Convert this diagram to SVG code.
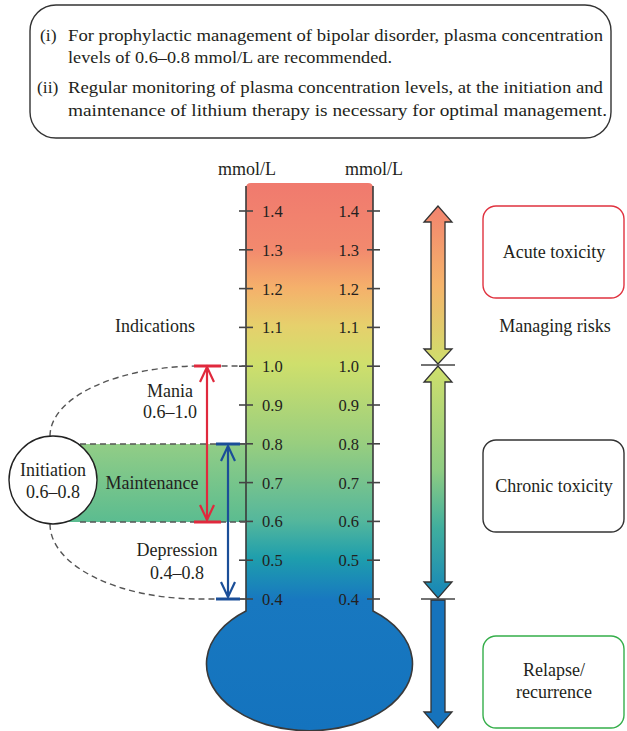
<svg xmlns="http://www.w3.org/2000/svg" width="627" height="731" viewBox="0 0 627 731">
<style>
text{font-family:"Liberation Serif","Times New Roman",serif;fill:#231f20;}
.hd{font-size:17.5px;}
.lb{font-size:18px;}
.tk{font-size:16.5px;}
.tick{stroke:#444;stroke-width:1.6;}
.dash{stroke:#555;stroke-width:1.4;stroke-dasharray:6 4;fill:none;}
.arr{stroke:#333;stroke-width:1.3;}
</style>
<defs>
<linearGradient id="tube" gradientUnits="userSpaceOnUse" x1="0" y1="183" x2="0" y2="731">
<stop offset="0" stop-color="#F07A6E"/>
<stop offset="0.12" stop-color="#F2896E"/>
<stop offset="0.19" stop-color="#F5B06B"/>
<stop offset="0.26" stop-color="#E6D06C"/>
<stop offset="0.33" stop-color="#CFDF6C"/>
<stop offset="0.475" stop-color="#98CE7F"/>
<stop offset="0.615" stop-color="#55B79C"/>
<stop offset="0.685" stop-color="#1E9EAD"/>
<stop offset="0.76" stop-color="#1878C0"/>
<stop offset="1" stop-color="#1473BE"/>
</linearGradient>
<linearGradient id="band" x1="0" y1="0" x2="0" y2="1">
<stop offset="0" stop-color="#92CD86"/>
<stop offset="1" stop-color="#5BBC90"/>
</linearGradient>
<linearGradient id="ga1" gradientUnits="userSpaceOnUse" x1="0" y1="206" x2="0" y2="364">
<stop offset="0" stop-color="#F2836E"/>
<stop offset="0.5" stop-color="#F5B46B"/>
<stop offset="1" stop-color="#CFDF6C"/>
</linearGradient>
<linearGradient id="ga2" gradientUnits="userSpaceOnUse" x1="0" y1="366" x2="0" y2="598">
<stop offset="0" stop-color="#CFDF6C"/>
<stop offset="0.45" stop-color="#8ECC82"/>
<stop offset="0.7" stop-color="#3FAE9E"/>
<stop offset="1" stop-color="#1685B8"/>
</linearGradient>
</defs>

<g id="note">
<rect x="30" y="5" width="581" height="133" rx="26" fill="#fff" stroke="#333" stroke-width="1.4"/>
<text class="hd" x="40" y="41">(i)</text>
<text class="hd" x="68" y="41" textLength="535" lengthAdjust="spacingAndGlyphs">For prophylactic management of bipolar disorder, plasma concentration</text>
<text class="hd" x="68" y="63" textLength="324" lengthAdjust="spacingAndGlyphs">levels of 0.6–0.8 mmol/L are recommended.</text>
<text class="hd" x="37" y="93">(ii)</text>
<text class="hd" x="68" y="93" textLength="535" lengthAdjust="spacingAndGlyphs">Regular monitoring of plasma concentration levels, at the initiation and</text>
<text class="hd" x="68" y="116" textLength="539" lengthAdjust="spacingAndGlyphs">maintenance of lithium therapy is necessary for optimal management.</text>
</g>

<g id="maintenance-band">
<rect x="53" y="444" width="193" height="78" fill="url(#band)"/>
</g>

<g id="thermometer">
<path d="M246 611 L246 188 Q246 183 251 183 L368 183 Q373 183 373 188 L373 611 A103 67 0 1 1 246 611 Z" fill="url(#tube)"/>
<path d="M246 186 L246 611 A103 67 0 1 0 373 611 L373 186" fill="none" stroke="#3a3a3a" stroke-width="1.6"/>
<text class="lb" x="247" y="175" text-anchor="middle">mmol/L</text>
<text class="lb" x="374" y="175" text-anchor="middle">mmol/L</text>
<g class="tick">
<line x1="239" y1="211" x2="253" y2="211"/><line x1="367" y1="211" x2="380" y2="211"/>
<line x1="239" y1="249.8" x2="253" y2="249.8"/><line x1="367" y1="249.8" x2="380" y2="249.8"/>
<line x1="239" y1="288.6" x2="253" y2="288.6"/><line x1="367" y1="288.6" x2="380" y2="288.6"/>
<line x1="239" y1="327.4" x2="253" y2="327.4"/><line x1="367" y1="327.4" x2="380" y2="327.4"/>
<line x1="239" y1="366.2" x2="253" y2="366.2"/><line x1="367" y1="366.2" x2="380" y2="366.2"/>
<line x1="239" y1="405" x2="253" y2="405"/><line x1="367" y1="405" x2="380" y2="405"/>
<line x1="239" y1="443.8" x2="253" y2="443.8"/><line x1="367" y1="443.8" x2="380" y2="443.8"/>
<line x1="239" y1="482.6" x2="253" y2="482.6"/><line x1="367" y1="482.6" x2="380" y2="482.6"/>
<line x1="239" y1="521.4" x2="253" y2="521.4"/><line x1="367" y1="521.4" x2="380" y2="521.4"/>
<line x1="239" y1="560.2" x2="253" y2="560.2"/><line x1="367" y1="560.2" x2="380" y2="560.2"/>
<line x1="239" y1="599" x2="253" y2="599"/><line x1="367" y1="599" x2="380" y2="599"/>
</g>
<g class="tk">
<text x="262" y="217">1.4</text><text x="359" y="217" text-anchor="end">1.4</text>
<text x="262" y="255.8">1.3</text><text x="359" y="255.8" text-anchor="end">1.3</text>
<text x="262" y="294.6">1.2</text><text x="359" y="294.6" text-anchor="end">1.2</text>
<text x="262" y="333.4">1.1</text><text x="359" y="333.4" text-anchor="end">1.1</text>
<text x="262" y="372.2">1.0</text><text x="359" y="372.2" text-anchor="end">1.0</text>
<text x="262" y="411">0.9</text><text x="359" y="411" text-anchor="end">0.9</text>
<text x="262" y="449.8">0.8</text><text x="359" y="449.8" text-anchor="end">0.8</text>
<text x="262" y="488.6">0.7</text><text x="359" y="488.6" text-anchor="end">0.7</text>
<text x="262" y="527.4">0.6</text><text x="359" y="527.4" text-anchor="end">0.6</text>
<text x="262" y="566.2">0.5</text><text x="359" y="566.2" text-anchor="end">0.5</text>
<text x="262" y="605">0.4</text><text x="359" y="605" text-anchor="end">0.4</text>
</g>
</g>

<g id="connectors">
<path class="dash" d="M50 436 A150 70 0 0 1 200 366 L246 366"/>
<path class="dash" d="M50 524 A150 75 0 0 0 200 599 L246 599"/>
<line class="dash" x1="80" y1="444" x2="246" y2="444"/>
<line class="dash" x1="80" y1="522" x2="246" y2="522"/>
<g stroke="#E0293D" stroke-width="2.2" fill="none">
<line x1="207" y1="367" x2="207" y2="520"/>
<polyline points="200,382 207,367 214,382"/>
<polyline points="200,505 207,520 214,505"/>
<line x1="194" y1="366" x2="221" y2="366" stroke-width="3"/>
<line x1="194" y1="522" x2="221" y2="522" stroke-width="3"/>
</g>
<g stroke="#1B4E98" stroke-width="2.2" fill="none">
<line x1="228" y1="446" x2="228" y2="597"/>
<polyline points="221,461 228,446 235,461"/>
<polyline points="221,582 228,597 235,582"/>
<line x1="216" y1="444" x2="240" y2="444" stroke-width="3"/>
<line x1="216" y1="599" x2="240" y2="599" stroke-width="3"/>
</g>
<polygon class="arr" fill="url(#ga1)" points="438,206 424,222 431,222 431,349 424,349 438,364 452,349 445,349 445,222 452,222"/>
<polygon class="arr" fill="url(#ga2)" points="438,366 424,382 431,382 431,582 424,582 438,598 452,582 445,582 445,382 452,382"/>
<polygon class="arr" fill="#1673BC" points="431,600 431,712 424,712 438,728 452,712 445,712 445,600"/>
<line x1="421" y1="365" x2="455" y2="365" stroke="#444" stroke-width="1.3"/>
<line x1="421" y1="599" x2="455" y2="599" stroke="#444" stroke-width="1.3"/>
</g>

<g id="labels">
<text class="lb" x="155" y="332" text-anchor="middle">Indications</text>
<text class="lb" x="170" y="397" text-anchor="middle">Mania</text>
<text class="lb" x="170" y="418" text-anchor="middle">0.6–1.0</text>
<text class="lb" x="152" y="489" text-anchor="middle">Maintenance</text>
<text class="lb" x="177" y="556" text-anchor="middle">Depression</text>
<text class="lb" x="177" y="579" text-anchor="middle">0.4–0.8</text>
<text class="lb" x="555" y="332" text-anchor="middle">Managing risks</text>
</g>

<g id="initiation">
<circle cx="53" cy="480" r="44" fill="#fff" stroke="#222" stroke-width="1.4"/>
<text class="lb" x="53" y="476" text-anchor="middle">Initiation</text>
<text class="lb" x="53" y="498" text-anchor="middle">0.6–0.8</text>
</g>

<g id="acute-toxicity">
<rect x="483" y="206" width="141" height="92" rx="13" fill="#fff" stroke="#E0323F" stroke-width="1.4"/>
<text class="lb" x="554" y="258" text-anchor="middle">Acute toxicity</text>
</g>
<g id="chronic-toxicity">
<rect x="483" y="440" width="141" height="92" rx="13" fill="#fff" stroke="#333" stroke-width="1.4"/>
<text class="lb" x="554" y="492" text-anchor="middle">Chronic toxicity</text>
</g>
<g id="relapse">
<rect x="483" y="636" width="141" height="92" rx="13" fill="#fff" stroke="#35AE4A" stroke-width="1.4"/>
<text class="lb" x="554" y="676" text-anchor="middle">Relapse/</text>
<text class="lb" x="554" y="698" text-anchor="middle">recurrence</text>
</g>
</svg>
